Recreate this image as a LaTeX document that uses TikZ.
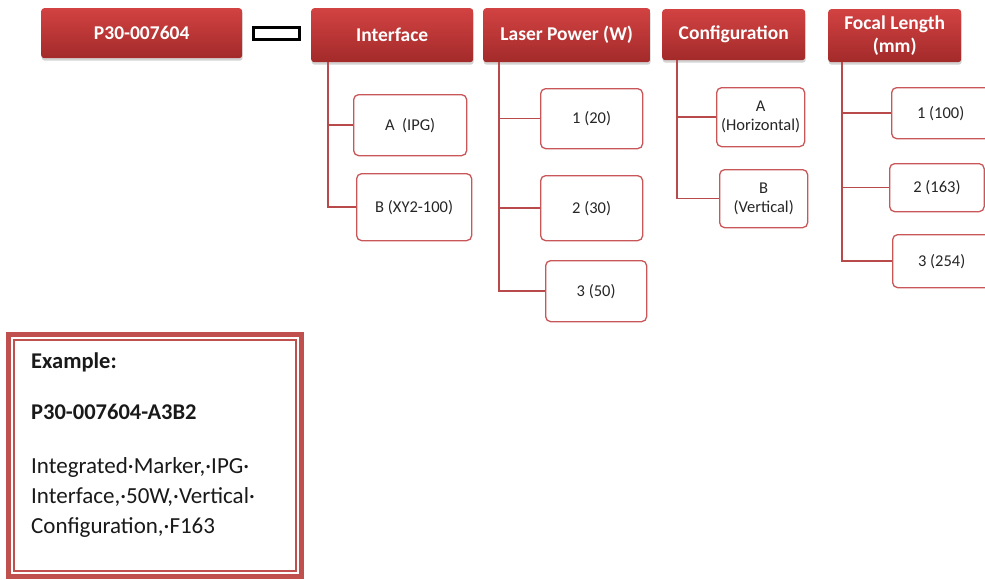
\documentclass[tikz,border=0pt]{standalone}
\usepackage{fontspec}
\setmainfont{Carlito}
\usetikzlibrary{shadows}
\definecolor{hdrtop}{HTML}{D24242}
\definecolor{hdrbot}{HTML}{A32A2A}
\definecolor{edge}{HTML}{C9575A}
\definecolor{trunk}{HTML}{B94A4C}
\definecolor{frame}{HTML}{C0504D}
\tikzset{
  hdr/.style={anchor=north west, rectangle, rounded corners=3pt, inner sep=0pt,
    top color=hdrtop, bottom color=hdrbot, draw=none, text=white,
    font=\fontsize{19.5}{23}\selectfont\bfseries, align=center,
    drop shadow={opacity=0.35, shadow xshift=0.5pt, shadow yshift=-2.5pt}},
  opt/.style={anchor=north west, rectangle, rounded corners=5pt, inner sep=0pt,
    draw=edge, line width=1.3pt, fill=white, text=black!85,
    font=\fontsize{16.5}{19}\selectfont, align=center},
  link/.style={draw=trunk, line width=1.4pt},
  extext/.style={anchor=west, inner sep=0pt, text=black!90, font=\fontsize{23}{24}\selectfont}
}
\begin{document}
\begin{tikzpicture}[x=1pt,y=-1pt]
\useasboundingbox (0,0) rectangle (985,579);

% header row
\node[hdr, minimum width=201pt, minimum height=50pt] (part) at (41,8) {P30-007604};
\node[draw=black, line width=3pt, minimum width=46pt, minimum height=12pt, inner sep=0pt,
      anchor=north west] (sep) at (251.5,25.5) {};
\node[hdr, minimum width=162pt, minimum height=54pt] (ifc) at (311,8) {Interface};
\node[hdr, minimum width=167pt, minimum height=54pt] (lsr) at (483,8) {Laser Power (W)};
\node[hdr, minimum width=143pt, minimum height=51pt] (cfg) at (662,9) {Configuration};
\node[hdr, minimum width=133pt, minimum height=53pt] (foc) at (828,9) {Focal Length\\(mm)};

% option boxes
\node[opt, minimum width=113pt, minimum height=61pt] (ia) at (353,94) {A\ \ (IPG)};
\node[opt, minimum width=115pt, minimum height=67pt] (ib) at (356,173) {B (XY2-100)};

\node[opt, minimum width=102pt, minimum height=60pt] (l1) at (540,88) {1 (20)};
\node[opt, minimum width=102pt, minimum height=65pt] (l2) at (540,175) {2 (30)};
\node[opt, minimum width=101pt, minimum height=61pt] (l3) at (545,260) {3 (50)};

\node[opt, minimum width=88pt, minimum height=59pt] (ca) at (716,87) {A\\(Horizontal)};
\node[opt, minimum width=88pt, minimum height=58pt] (cb) at (719,169) {B\\(Vertical)};

\node[opt, minimum width=98pt, minimum height=51pt] (f1) at (891,87) {1 (100)};
\node[opt, minimum width=94.5pt, minimum height=48pt] (f2) at (889,163) {2 (163)};
\node[opt, minimum width=98pt, minimum height=53pt] (f3) at (892,234) {3 (254)};

% trunks start under each header
\coordinate (ifcT) at ([xshift=17pt]ifc.south west);
\coordinate (lsrT) at ([xshift=16pt]lsr.south west);
\coordinate (cfgT) at ([xshift=15pt]cfg.south west);
\coordinate (focT) at ([xshift=14pt]foc.south west);

\draw[link] (ifcT) |- (ia.west);
\draw[link] (ifcT) |- (ib.west);
\draw[link] (lsrT) |- (l1.west);
\draw[link] (lsrT) |- (l2.west);
\draw[link] (lsrT) |- (l3.west);
\draw[link] (cfgT) |- (ca.west);
\draw[link] (cfgT) |- (cb.west);
\draw[link] (focT) |- (f1.west);
\draw[link] (focT) |- (f2.west);
\draw[link] (focT) |- (f3.west);

% example panel
\draw[draw=frame, line width=5pt] (8.5,334.5) rectangle (301.5,576.5);
\draw[draw=frame, line width=1.4pt] (14,340) rectangle (296,571);
\node[extext, font=\fontsize{22.5}{24}\selectfont\bfseries] (exh) at (31,362) {Example:};
\node[extext, font=\fontsize{22.5}{24}\selectfont\bfseries] (exc) at (31,412) {P30-007604-A3B2};
\node[extext] (ex1) at (31,467) {Integrated·Marker,·IPG·};
\node[extext] (ex2) at (31,497) {Interface,·50W,·Vertical·};
\node[extext] (ex3) at (31,528) {Configuration,·F163};
\end{tikzpicture}
\end{document}
